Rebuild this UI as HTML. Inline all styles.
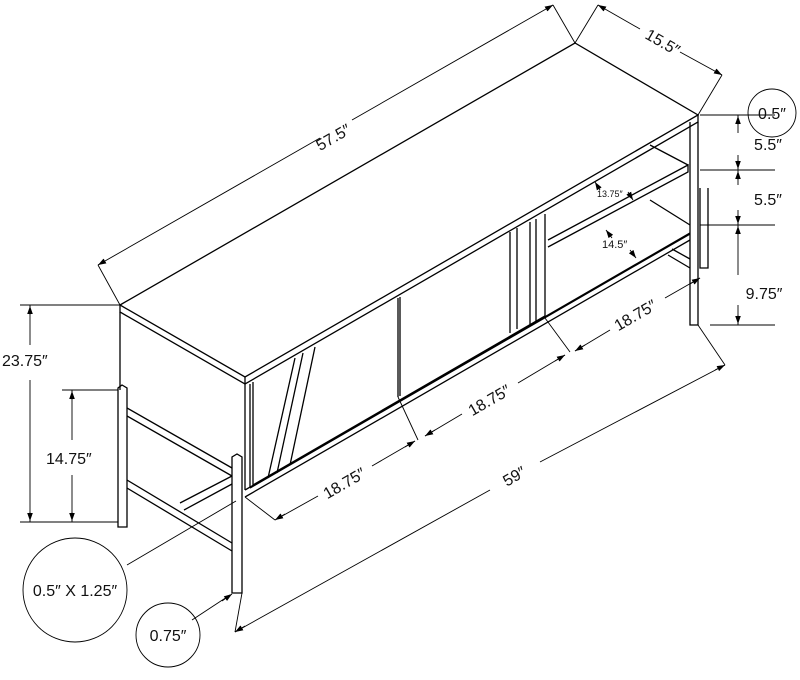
<!DOCTYPE html><html><head><style>body{margin:0;background:#fff}svg text{font-family:"Liberation Sans",sans-serif;fill:#111}</style></head><body>
<svg width="800" height="675" viewBox="0 0 800 675" xmlns="http://www.w3.org/2000/svg">
<defs><marker id="a" viewBox="0 0 10 10" refX="10" refY="5" markerWidth="9" markerHeight="9" orient="auto-start-reverse"><path d="M0,1.5L10,5L0,8.5z" fill="#000"/></marker></defs>
<g stroke="#000" stroke-width="1.3" fill="none">
<path d="M120,305L575,43L698,115L245,377Z" fill="#fff"/>
<path d="M120,305L120,312L245,384L698,122L698,115"/>
<path d="M245,377L245,384"/>
<path d="M120,312L120,390M245,384L245,490"/>
<path d="M250,384L250,488M250,488L690,234"/>
<path d="M245,490L690,233M245,497L690,240"/>
<path d="M253,382L253,485L545,316"/>
<path d="M295,358L268,478M303,353L277,473M315,347L290,465"/>
<path d="M398,298L398,397M400,297L400,396"/>
<path d="M510,232L510,333M517,228L517,329M530,222L530,325M536,219L536,322M545,214L545,318"/>
<path d="M548,240L688,165L688,172L548,247"/>
<path d="M650,145L688,165M650,200L690,225"/>
<path d="M690,122L690,325L698,325L698,122"/>
<path d="M700,188L700,268L708,268L708,188"/>
<path d="M668,255L690,268M672,249L690,259"/>
<path d="M118,388L118,527L127,527L127,388L122,385Z"/>
<path d="M232,457L232,593L242,593L242,457L237,454Z"/>
<path d="M127,408L232,468M127,416L232,476M127,480L232,543M127,488L232,551"/>
<path d="M180,503L232,476M184,510L232,484"/>
</g>
<g stroke="#000" stroke-width="0.9" fill="none">
<path d="M98,265L320,138M352,120L553,5"/>
<line x1="98" y1="265" x2="104" y2="261.5" marker-start="url(#a)"/>
<line x1="553" y1="5" x2="547" y2="8.5" marker-start="url(#a)"/>
<path d="M98,265L120,305M553,5L575,43M575,43L598,5M698,115L722,75"/>
<path d="M598,5L640,29M680,52L722,75"/>
<line x1="598" y1="5" x2="604" y2="8.5" marker-start="url(#a)"/>
<line x1="722" y1="75" x2="716" y2="71.5" marker-start="url(#a)"/>
<path d="M700,115L775,115M700,170L775,170M700,225L775,225M710,325L775,325"/>
<path d="M738,115L738,133M738,155L738,170M738,170L738,185M738,210L738,225M738,225L738,275M738,305L738,325"/>
<line x1="738" y1="125" x2="738" y2="116" marker-end="url(#a)"/>
<line x1="738" y1="160" x2="738" y2="169" marker-end="url(#a)"/>
<line x1="738" y1="180" x2="738" y2="171" marker-end="url(#a)"/>
<line x1="738" y1="215" x2="738" y2="224" marker-end="url(#a)"/>
<line x1="738" y1="235" x2="738" y2="226" marker-end="url(#a)"/>
<line x1="738" y1="315" x2="738" y2="324" marker-end="url(#a)"/>
<circle cx="772" cy="113" r="24"/>
<path d="M20,305L120,305M62,390L118,390M20,522L118,522"/>
<path d="M30,305L30,345M30,380L30,522M72,390L72,440M72,475L72,522"/>
<line x1="30" y1="315" x2="30" y2="306" marker-end="url(#a)"/>
<line x1="30" y1="512" x2="30" y2="521" marker-end="url(#a)"/>
<line x1="72" y1="400" x2="72" y2="391" marker-end="url(#a)"/>
<line x1="72" y1="512" x2="72" y2="521" marker-end="url(#a)"/>
<path d="M245,497L275,520M398,397L418,440M545,318L570,352M698,325L725,365M242,593L235,632"/>
<path d="M275,520L318,496M372,466L415,441M425,436L462,414M518,383L565,355M575,351L610,330M665,298L700,278"/>
<line x1="285" y1="514" x2="275" y2="520" marker-end="url(#a)"/>
<line x1="405" y1="447" x2="415" y2="441" marker-end="url(#a)"/>
<line x1="435" y1="430" x2="425" y2="436" marker-end="url(#a)"/>
<line x1="555" y1="361" x2="565" y2="355" marker-end="url(#a)"/>
<line x1="585" y1="345" x2="575" y2="351" marker-end="url(#a)"/>
<line x1="690" y1="284" x2="700" y2="278" marker-end="url(#a)"/>
<path d="M235,632L490,490M540,462L725,365"/>
<line x1="245" y1="626" x2="235" y2="632" marker-end="url(#a)"/>
<line x1="715" y1="370" x2="725" y2="365" marker-end="url(#a)"/>
<line x1="600" y1="190" x2="595" y2="182" marker-end="url(#a)"/>
<line x1="628" y1="192" x2="633" y2="200" marker-end="url(#a)"/>
<line x1="612" y1="238" x2="606" y2="230" marker-end="url(#a)"/>
<line x1="630" y1="250" x2="636" y2="258" marker-end="url(#a)"/>
<circle cx="75" cy="590" r="52"/>
<circle cx="168" cy="635" r="32"/>
<path d="M127,565L236,501M192,620L230,595"/>
<line x1="222" y1="601" x2="232" y2="594" marker-end="url(#a)"/>
</g>
<g font-size="16">
<text transform="translate(336,142) rotate(-30)" text-anchor="middle">57.5″</text>
<text transform="translate(660,47) rotate(30)" text-anchor="middle">15.5″</text>
<text x="772" y="119" text-anchor="middle">0.5″</text>
<text x="768" y="150" text-anchor="middle">5.5″</text>
<text x="768" y="205" text-anchor="middle">5.5″</text>
<text x="764" y="299" text-anchor="middle">9.75″</text>
<text x="2" y="366">23.75″</text>
<text x="46" y="464">14.75″</text>
<text transform="translate(347,488) rotate(-30)" text-anchor="middle">18.75″</text>
<text transform="translate(492,405) rotate(-30)" text-anchor="middle">18.75″</text>
<text transform="translate(638,320) rotate(-30)" text-anchor="middle">18.75″</text>
<text transform="translate(517,481) rotate(-30)" text-anchor="middle">59″</text>
<text x="75" y="596" text-anchor="middle">0.5″ X 1.25″</text>
<text x="168" y="641" text-anchor="middle">0.75″</text>
</g>
<text x="597" y="197" font-size="9">13.75″</text>
<text x="602" y="248" font-size="11">14.5″</text>
</svg></body></html>
